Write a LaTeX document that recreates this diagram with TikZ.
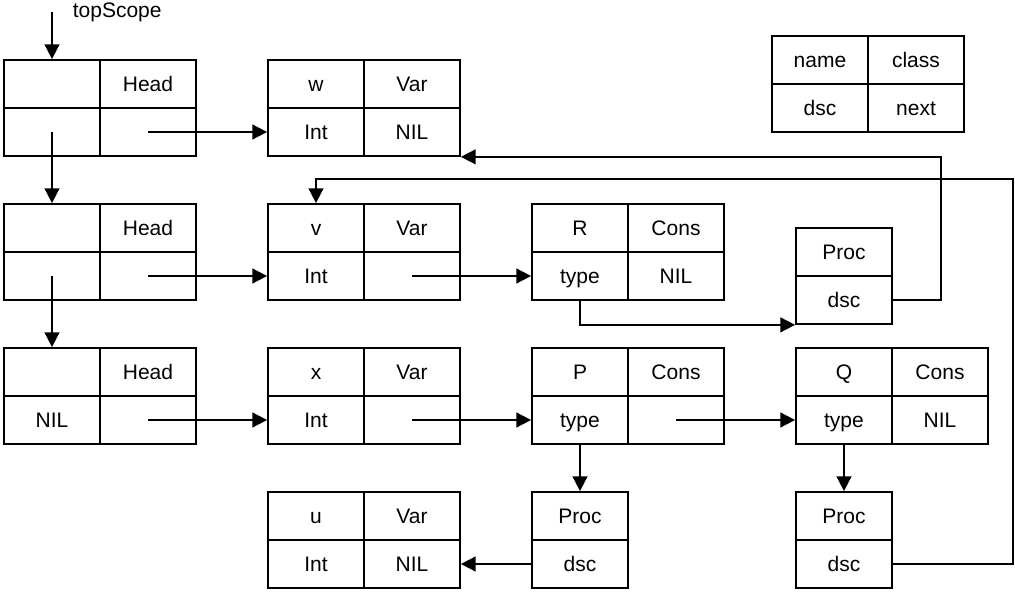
\documentclass[tikz,border=0pt]{standalone}
\usepackage{fontspec}
\setmainfont{Liberation Sans}
\usetikzlibrary{positioning,arrows.meta,calc}

\begin{document}
\begin{tikzpicture}[x=0.75pt,y=-0.75pt,font=\fontsize{15.75}{18}\selectfont,>={Triangle[length=11pt,width=11pt]},line width=1.3pt,
  c/.style={draw,minimum width=72pt,minimum height=36pt,inner sep=0pt,text height=11.3pt,text depth=0pt}]
\useasboundingbox (0,0) rectangle (1015,592);
\foreach \n/\x/\y/\a/\b/\c/\d in {s1/4/60/{}/Head/{}/{}, s2/4/204/{}/Head/{}/{}, s3/4/348/{}/Head/NIL/{},
  w/268/60/w/Var/Int/NIL, v/268/204/v/Var/Int/{}, x/268/348/x/Var/Int/{}, u/268/492/u/Var/Int/NIL,
  R/532/204/R/Cons/type/NIL, P/532/348/P/Cons/type/{}, Q/796/348/Q/Cons/type/NIL,
  key/772/36/name/class/dsc/next}{
  \node[c] (\n-a) at (\x+48,\y+24) {\a};
  \node[c] (\n-b) at (\x+144,\y+24) {\b};
  \node[c] (\n-c) at (\x+48,\y+72) {\c};
  \node[c] (\n-d) at (\x+144,\y+72) {\d};
}
\foreach \n/\x/\y in {pr/796/228, pp/532/492, pq/796/492}{
  \node[c] (\n-a) at (\x+48,\y+24) {Proc};
  \node[c] (\n-b) at (\x+48,\y+72) {dsc};
}
\coordinate (top) at (52,12);
\node[anchor=base west,inner sep=0pt] (toplbl) at (72,18) {topScope};
\draw[->] (top) -- (s1-a.north);
\draw[->] (s1-c.center) -- (s2-a.north);
\draw[->] (s2-c.center) -- (s3-a.north);
\foreach \a/\b in {s1/w,s2/v,s3/x,v/R,x/P,P/Q} \draw[->] (\a-d.center) -- (\b-c.west);
\draw[->] (P-c.south) -- (pp-a.north);
\draw[->] (Q-c.south) -- (pq-a.north);
\draw[->] (pp-b.west) -- (u-d.east);
\draw[->] (R-c.south) |- (pr-b.south west);
\draw[->] (pr-b.east) -- ++(48,0) |- (w-d.south east);
\draw[->] (pq-b.east) -- ++(120,0) |- ($(v-a.north)+(0,-24)$) -- (v-a.north);
\end{tikzpicture}
\end{document}
